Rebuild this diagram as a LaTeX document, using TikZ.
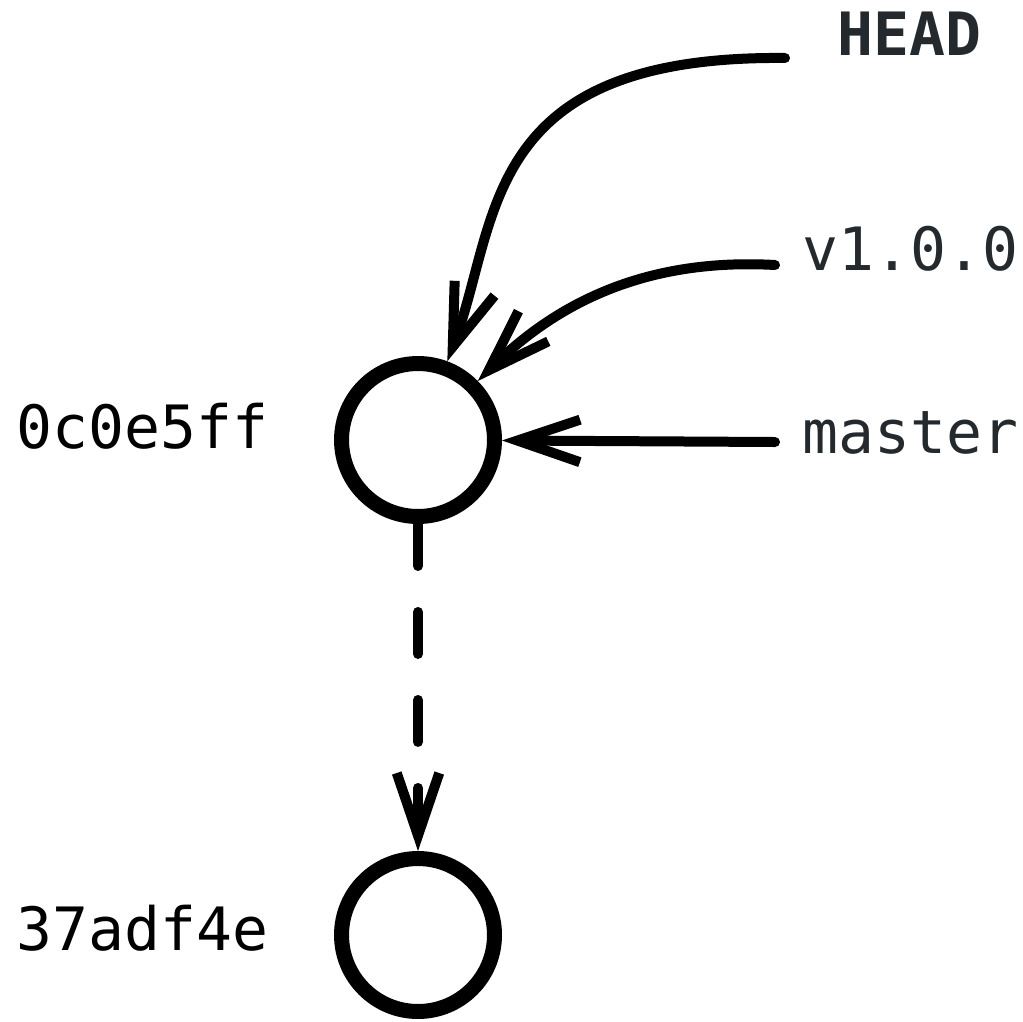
\documentclass[tikz,border=0pt]{standalone}
\usepackage{fontspec}
\setmonofont{DejaVu Sans Mono}
\usetikzlibrary{arrows.meta,positioning}
\definecolor{refgray}{HTML}{24292E}

\begin{document}
\begin{tikzpicture}[x=0.02cm,y=-0.02cm,
    commit/.style={circle,draw,line width=0.3cm,minimum size=3.06cm,inner sep=0pt},
    hash/.style={font=\ttfamily\fontsize{34}{40}\selectfont,anchor=base west,inner sep=0pt},
    ref/.style={hash,text=refgray},
    headref/.style={ref,font=\ttfamily\bfseries\fontsize{34}{40}\selectfont},
    pointer/.style={line width=0.2cm,line cap=round,-{Straight Barb[sharp,length=1.25cm,width=0.85cm]}}]
    \useasboundingbox (0,0) rectangle (1023,1021);
    % Commits
    \node[commit] (c1) at (418,440) {};
    \node[commit] (c2) at (418,935) {};
    \node[hash] (h1) at (16,448) {0c0e5ff};
    \node[hash] (h2) at (16,950) {37adf4e};
    % Refs
    \node[headref] (head) at (837,55) {HEAD};
    \node[ref] (tag) at (802,270) {v1.0.0};
    \node[ref] (master) at (802,453) {master};
    % Pointers
    \draw[pointer] ([shift={(-1.04cm,-0.06cm)}]head.base west) .. controls (480,55) and (500,220) .. (c1);
    \draw[pointer] ([shift={(-0.54cm,0.1cm)}]tag.base west) .. controls (650,258) and (560,300) .. (c1);
    \draw[pointer] ([shift={(-0.54cm,0.22cm)}]master.base west) -- (c1);
    % Parent
    \draw[pointer,dash pattern=on 0.84cm off 0.92cm] (c1) -- (c2);
\end{tikzpicture}
\end{document}
